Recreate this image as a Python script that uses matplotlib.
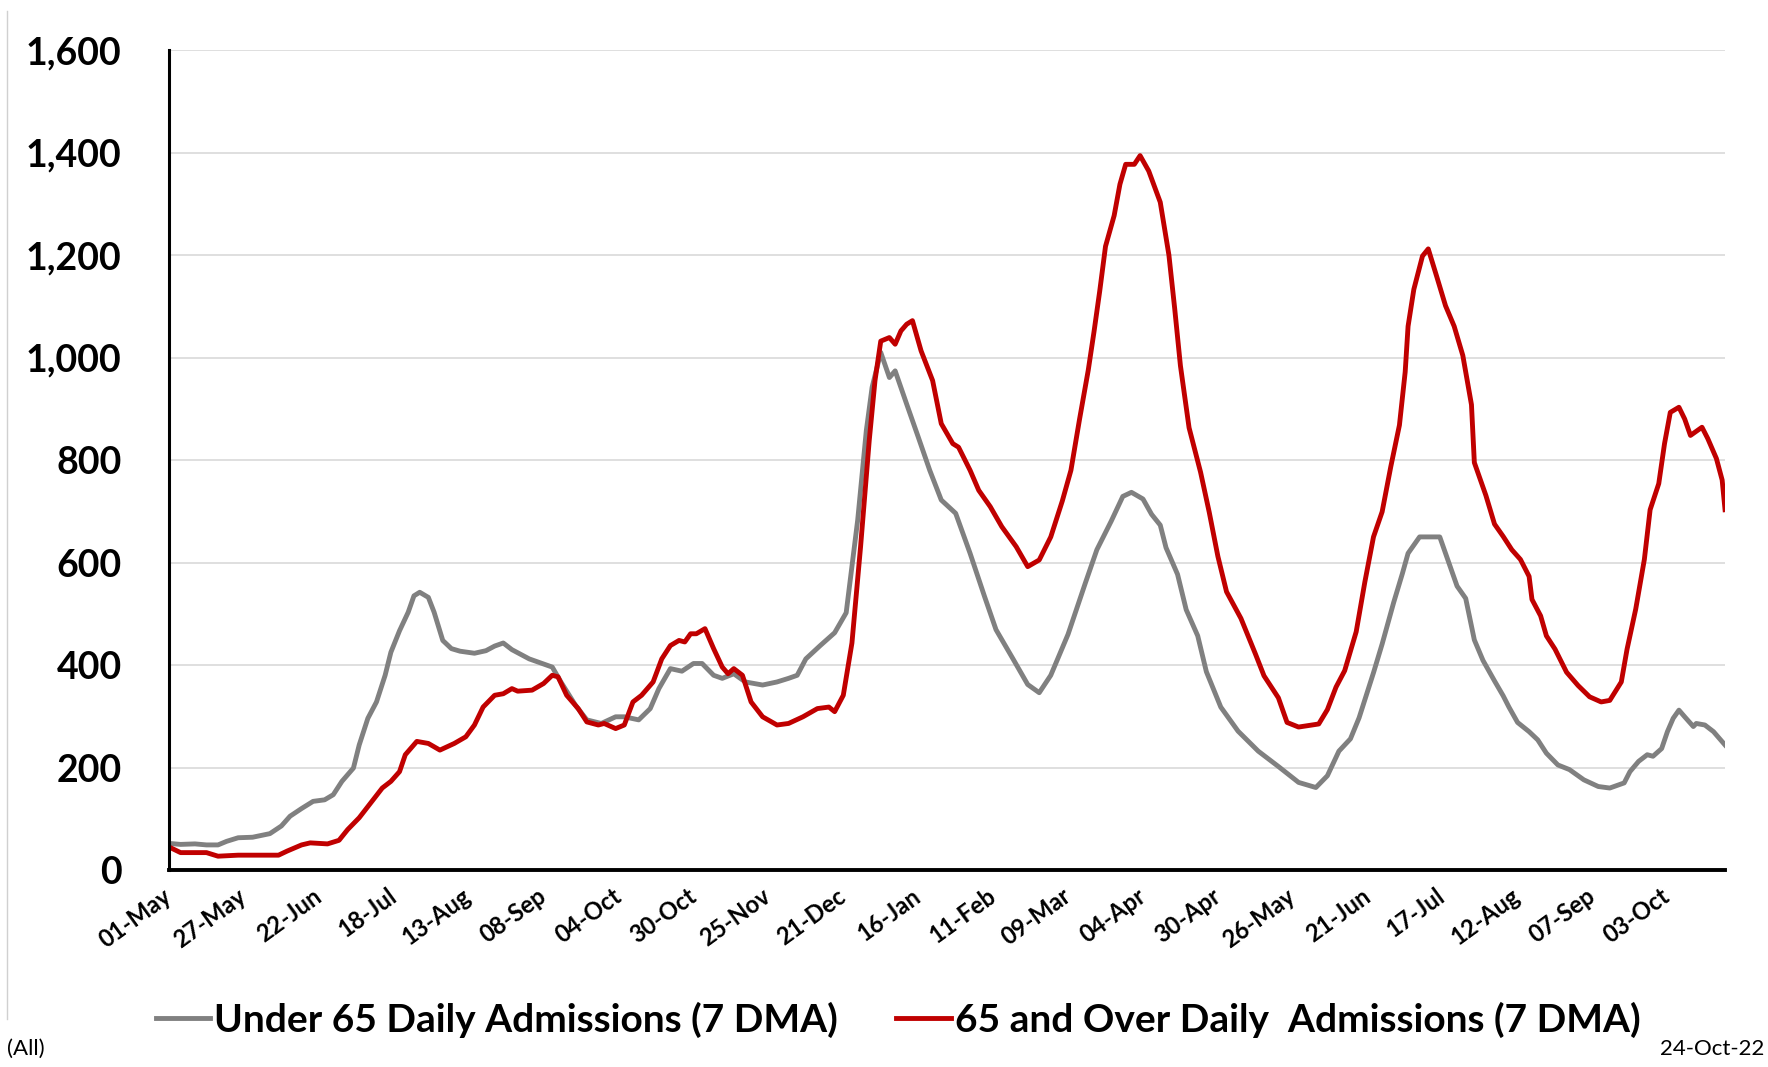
import matplotlib
matplotlib.use("Agg")
import matplotlib.pyplot as plt
import matplotlib.ticker as mticker
from matplotlib.lines import Line2D
import pandas as pd

plt.rcParams['font.family'] = ['Lato', 'DejaVu Sans']

start = pd.Timestamp('2021-05-01')
n_days = 540  # last data day: 23-Oct-2022

# Under 65 daily admissions (7 DMA): day offset from 01-May-2021, value
u65_days = [0, 4, 9, 13, 17, 20, 24, 29, 35, 39, 42, 46, 50, 54, 57, 60, 64, 66, 69, 72,
            75, 77, 80, 83, 85, 87, 90, 92, 95, 98, 101, 106, 110, 113, 116, 119, 125, 129, 133, 136,
            141, 145, 150, 155, 158, 163, 167, 170, 174, 178, 182, 185, 189, 192, 196, 200, 206, 211, 215, 218,
            221, 226, 231, 235, 237, 239, 242, 244, 247, 250, 252, 256, 260, 264, 268, 273, 278, 283, 287, 293,
            298, 302, 306, 312, 318, 322, 327, 331, 334, 338, 341, 344, 346, 350, 353, 357, 360, 365, 371, 378,
            385, 392, 398, 402, 406, 410, 413, 418, 421, 425, 428, 430, 434, 437, 441, 443, 447, 450, 453, 456,
            460, 463, 465, 468, 472, 475, 478, 482, 486, 491, 496, 500, 505, 507, 510, 513, 515, 518, 520, 522,
            524, 526, 529, 530, 533, 536, 538, 540]
u65_vals = [52, 50, 51, 49, 49, 56, 63, 64, 71, 86, 105, 120, 134, 137, 147, 173, 199, 244, 296, 328,
            380, 425, 467, 503, 535, 542, 532, 503, 448, 432, 427, 423, 428, 437, 443, 430, 412, 404, 396, 367,
            322, 293, 286, 299, 299, 293, 315, 354, 393, 388, 403, 403, 380, 374, 383, 367, 361, 367, 374, 380,
            412, 438, 463, 502, 592, 683, 858, 942, 1010, 961, 974, 909, 845, 780, 722, 696, 618, 534, 469, 411,
            362, 346, 380, 460, 560, 625, 681, 729, 737, 724, 694, 673, 629, 577, 508, 457, 387, 318, 271, 232,
            202, 171, 161, 184, 232, 256, 297, 385, 441, 522, 578, 618, 650, 650, 650, 618, 554, 530, 449, 409,
            369, 340, 318, 288, 270, 254, 228, 205, 196, 176, 163, 160, 170, 192, 212, 225, 222, 237, 270, 296,
            312, 299, 280, 286, 283, 270, 257, 244]

# 65 and over daily admissions (7 DMA)
o65_days = [0, 4, 13, 17, 24, 32, 38, 41, 46, 49, 55, 59, 62, 66, 70, 74, 77, 80, 82, 86,
            90, 94, 99, 103, 106, 109, 113, 116, 119, 121, 126, 130, 133, 135, 138, 142, 145, 149, 151, 155,
            158, 161, 164, 168, 171, 174, 177, 179, 181, 183, 186, 189, 192, 194, 196, 199, 202, 206, 211, 215,
            220, 225, 229, 231, 234, 237, 240, 243, 245, 247, 250, 252, 254, 256, 258, 261, 265, 268, 272, 274,
            278, 281, 285, 289, 294, 298, 302, 306, 310, 313, 316, 319, 321, 323, 325, 328, 330, 332, 335, 337,
            340, 344, 347, 349, 351, 354, 358, 361, 364, 367, 372, 377, 380, 385, 388, 392, 399, 402, 405, 408,
            412, 415, 418, 421, 424, 427, 429, 430, 432, 435, 437, 440, 443, 446, 449, 452, 453, 457, 460, 463,
            466, 469, 472, 473, 476, 478, 481, 485, 489, 493, 497, 500, 504, 506, 509, 512, 514, 517, 519, 521,
            524, 526, 528, 532, 534, 537, 539, 540]
o65_vals = [45, 34, 34, 27, 29, 29, 29, 37, 49, 53, 51, 58, 79, 102, 131, 160, 173, 192, 225, 251,
            247, 234, 247, 260, 283, 318, 341, 344, 354, 349, 351, 364, 380, 377, 341, 315, 289, 283, 286, 276,
            283, 328, 341, 367, 412, 438, 448, 445, 461, 461, 471, 432, 396, 383, 393, 380, 328, 299, 283, 286,
            299, 315, 318, 309, 341, 443, 631, 838, 955, 1032, 1039, 1026, 1052, 1065, 1072, 1013, 955, 871, 832, 825,
            780, 741, 709, 670, 631, 592, 605, 650, 720, 780, 880, 975, 1050, 1130, 1217, 1277, 1338, 1377, 1377, 1394,
            1364, 1303, 1200, 1096, 984, 863, 776, 698, 612, 543, 491, 422, 379, 336, 288, 279, 285, 313, 357, 389,
            465, 562, 650, 699, 787, 868, 972, 1061, 1133, 1198, 1212, 1157, 1101, 1061, 1004, 908, 795, 731, 675, 651,
            625, 606, 573, 528, 496, 457, 431, 386, 360, 338, 328, 331, 367, 431, 509, 606, 703, 754, 832, 893,
            903, 880, 848, 864, 842, 803, 761, 703]

u65_label = 'Under 65 Daily Admissions (7 DMA)'
o65_label = '65 and Over Daily  Admissions (7 DMA)'
tick_dates = pd.date_range(start, periods=21, freq='26D')

u65_x = start + pd.to_timedelta(u65_days, unit='D')
o65_x = start + pd.to_timedelta(o65_days, unit='D')

fig = plt.figure(figsize=(17.68, 10.67), dpi=100)
ax = fig.add_axes([0.0956, 0.1846, 0.8801, 0.7685])

ax.plot(u65_x, u65_vals, color='#808080', lw=3.5, label=u65_label, solid_joinstyle='round')
ax.plot(o65_x, o65_vals, color='#C00000', lw=3.5, label=o65_label, solid_joinstyle='round')

ax.set_xlim(start, start + pd.Timedelta(days=n_days))
ax.set_ylim(0, 1600)
ax.yaxis.set_major_locator(mticker.MultipleLocator(200))
ax.yaxis.set_major_formatter(mticker.FuncFormatter(lambda v, p: f'{int(v):,}'))
ax.grid(axis='y', color='#d9d9d9', lw=1.2)
ax.set_axisbelow(True)

ax.set_xticks(tick_dates)
ax.set_xticklabels([d.strftime('%d-%b') for d in tick_dates], rotation=36,
                   ha='right', va='center', rotation_mode='anchor', fontsize=17, fontweight='bold')
ax.tick_params(axis='x', length=0, pad=17)
ax.tick_params(axis='y', length=0, pad=34, labelsize=27)
for lab in ax.get_yticklabels():
    lab.set_fontweight('bold')

for side in ['top', 'right']:
    ax.spines[side].set_visible(False)
ax.spines['left'].set_linewidth(2.2)
ax.spines['bottom'].set_linewidth(2.8)

fig.legend(loc='center', bbox_to_anchor=(0.508, 0.044), ncol=2, frameon=False,
           prop={'weight': 'bold', 'size': 28}, handlelength=1.4, handletextpad=0.1,
           columnspacing=1.5)

fig.text(0.004, 0.017, '(All)', fontsize=16, ha='left', va='center')
fig.text(0.998, 0.017, '24-Oct-22', fontsize=16, ha='right', va='center')
fig.add_artist(Line2D([0.004, 0.004], [0.045, 0.99], transform=fig.transFigure,
                      color='#d0d0d0', lw=1))

fig.savefig('out.png', dpi=100)
